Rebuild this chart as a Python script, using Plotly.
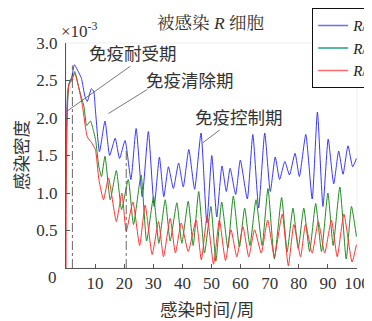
import plotly.graph_objects as go

# infection density (x1e-3) vs infection time (weeks)
blue_x = [0, 0.5, 1, 2, 2.9, 4.2, 5.3, 6.5, 7.3, 8.7, 9.5, 10.1, 11.5, 13.4, 15.0, 16.9, 18.4, 20.3, 22.3, 24.1,
          26.2, 28.3, 30.3, 32.1, 33.6, 35.2, 36.9, 38.7, 40.3, 42.2, 44.2, 46.4, 48.4, 50.1, 51.8, 53.6, 55.1, 56.4,
          58.3, 59.9, 62.3, 64.2, 66.2, 68.3, 70.2, 71.9, 73.4, 75.2, 76.8, 78.7, 80.2, 82.4, 84.6, 86.4, 88.3, 90.1,
          92.0, 93.7, 95.2, 96.9, 98.5, 99.8]
blue_y = [1.55, 2.3, 2.45, 2.55, 2.71, 2.62, 2.53, 2.29, 2.22, 2.39, 2.36, 2.11, 1.55, 1.96, 1.50, 1.73, 1.46, 1.70,
          1.18, 1.86, 0.95, 1.82, 0.82, 1.48, 0.95, 1.35, 1.06, 1.40, 1.08, 1.58, 1.05, 1.80, 0.60, 1.50, 0.68, 1.36,
          1.02, 1.33, 0.98, 1.44, 0.92, 1.78, 0.80, 1.80, 1.02, 1.48, 1.18, 1.42, 1.24, 1.53, 1.22, 1.78, 0.92, 2.08,
          0.82, 1.72, 1.12, 1.56, 1.25, 1.63, 1.35, 1.46]

green_x = [0, 0.4, 1, 2, 3.0, 4.3, 5.4, 6.2, 7.1, 8.4, 9.3, 10.2, 11.3, 12.2, 13.4, 15.2, 17.3, 19.1, 21.4, 23.2,
           25.8, 27.7, 30.1, 31.9, 34.1, 35.8, 38.1, 39.8, 42.0, 43.7, 45.6, 47.6, 49.8, 51.5, 53.5, 55.6, 57.5, 59.6,
           61.4, 63.2, 65.3, 67.4, 69.4, 71.6, 74.1, 76.0, 78.0, 79.8, 81.7, 83.7, 85.8, 87.8, 90.0, 91.8, 94.1, 96.3,
           98.1, 99.8]
green_y = [1.02, 2.0, 2.45, 2.52, 2.62, 2.42, 2.26, 2.15, 1.90, 1.96, 1.85, 1.70, 1.35, 1.22, 1.49, 0.91, 1.30, 0.78,
           1.18, 0.58, 1.24, 0.36, 0.95, 0.33, 0.91, 0.36, 0.87, 0.33, 0.89, 0.30, 1.02, 0.20, 0.82, 0.09, 0.88, 0.27,
           0.96, 0.28, 0.80, 0.30, 0.91, 0.30, 1.06, 0.12, 0.94, 0.22, 0.80, 0.26, 0.80, 0.22, 0.86, 0.22, 1.00, 0.30,
           1.08, 0.12, 0.82, 0.42]

red_x = [0, 0.3, 1.0, 2.0, 3.0, 4.3, 5.7, 7.3, 8.8, 10.1, 11.3, 12.9, 14.6, 17.3, 19.2, 20.7, 23.0, 25.3, 27.2, 29.6,
         31.8, 33.5, 35.8, 37.6, 39.6, 42.0, 44.7, 46.5, 48.5, 50.7, 52.7, 54.8, 56.7, 58.7, 60.8, 62.8, 64.8, 67.1,
         69.3, 71.6, 74.3, 76.4, 78.3, 80.6, 82.3, 84.6, 86.7, 88.9, 91.2, 93.2, 95.5, 98.3, 99.8]
red_y = [0.0, 2.0, 2.45, 2.5, 2.6, 2.42, 2.15, 1.75, 1.67, 1.58, 1.18, 0.91, 1.20, 0.62, 1.00, 0.49, 0.88, 0.30, 0.84,
         0.18, 0.62, 0.15, 0.66, 0.20, 0.60, 0.22, 0.64, 0.11, 0.69, 0.05, 0.64, 0.10, 0.51, 0.15, 0.55, 0.15, 0.51,
         0.20, 0.64, 0.15, 0.72, 0.03, 0.58, 0.15, 0.58, 0.20, 0.62, 0.20, 0.64, 0.15, 0.72, 0.08, 0.31]

series_names = ["<i>R</i>/<i>R</i><sub>0</sub>=0.5", "<i>R</i>/<i>R</i><sub>0</sub>=1.0", "<i>R</i>/<i>R</i><sub>0</sub>=1.5"]
line_colors = ["#3838ff", "#228b22", "#ff3333"]
legend_colors = ["#6b6bff", "#1f9e89", "#ff6b6b"]

x_ticks = [10, 20, 30, 40, 50, 60, 70, 80, 90, 100]
y_ticks = [0.5, 1.0, 1.5, 2.0, 2.5, 3.0]
y_ticktext = ["0.5", "1.0", "1.5", "2.0", "2.5", "3.0"]
phase_lines = [2.2, 20.7]
phase_tops = [2.7, 1.6]

SERIF = "Liberation Serif, Noto Serif CJK SC, Noto Sans CJK SC"
CJK = "Noto Sans CJK SC"
TXT = "#333"

fig = go.Figure()
for xs, ys, c in zip([blue_x, green_x, red_x], [blue_y, green_y, red_y], line_colors):
    fig.add_trace(go.Scatter(x=xs, y=ys, mode="lines", showlegend=False,
                             line=dict(color=c, width=1, shape="spline", smoothing=0.5)))
for name, c in zip(series_names, legend_colors):
    fig.add_trace(go.Scatter(x=[None], y=[None], mode="lines", name=name,
                             line=dict(color=c, width=1.5)))

shapes = []
for xv, top in zip(phase_lines, phase_tops):
    shapes.append(dict(type="line", xref="x", yref="y", x0=xv, x1=xv, y0=0, y1=top,
                       line=dict(color="#444", width=0.8, dash="dashdot")))
# pointer lines for the phase labels
pointers = [((22.1, 2.69), (0.3, 2.09)), ((27.9, 2.38), (14.6, 2.06)), ((52.8, 1.84), (47.0, 1.67))]
for (xa, ya), (xb, yb) in pointers:
    shapes.append(dict(type="line", xref="x", yref="y", x0=xa, y0=ya, x1=xb, y1=yb,
                       line=dict(color="#555", width=0.8)))
shapes.append(dict(type="rect", xref="paper", yref="paper", x0=0, x1=1, y0=0, y1=1,
                   line=dict(color="#eeeeee", width=1), layer="below"))

annotations = [
    dict(x=23.1, y=2.88, xref="x", yref="y", text="免疫耐受期", font=dict(family=CJK, size=17.5, color=TXT)),
    dict(x=42.7, y=2.51, xref="x", yref="y", text="免疫清除期", font=dict(family=CJK, size=17.5, color=TXT)),
    dict(x=59.5, y=2.02, xref="x", yref="y", text="免疫控制期", font=dict(family=CJK, size=17.5, color=TXT)),
    dict(x=0.495, y=1.089, xref="paper", yref="paper", text="被感染 <i>R</i> 细胞",
         font=dict(family=SERIF, size=17.5, color=TXT)),
    dict(x=0.045, y=1.058, xref="paper", yref="paper", text="×10<sup>-3</sup>",
         font=dict(family=SERIF, size=17, color=TXT)),
    dict(x=-0.045, y=-0.04, xref="paper", yref="paper", text="0",
         font=dict(family=SERIF, size=17, color=TXT)),
    dict(x=0.485, y=-0.178, xref="paper", yref="paper", text="感染时间/周",
         font=dict(family=CJK, size=17.5, color=TXT)),
    dict(x=-0.158, y=0.502, xref="paper", yref="paper", text="感染密度", textangle=-90,
         font=dict(family=CJK, size=17.5, color=TXT)),
]
for a in annotations:
    a.update(showarrow=False, xanchor="center", yanchor="middle")

# page body has an 8px margin, so the figure is 8px smaller and its margins 8px less
fig.update_layout(
    width=364, height=313,
    margin=dict(l=58, r=15, t=35, b=53, autoexpand=False),
    paper_bgcolor="white", plot_bgcolor="white",
    shapes=shapes, annotations=annotations,
    legend=dict(x=(312 - 66) / 291, y=(268 - 8) / 225, xanchor="left", yanchor="top",
                bgcolor="white", bordercolor="#111", borderwidth=1.2,
                font=dict(family=SERIF, size=15, color="#222"), tracegroupgap=0),
    xaxis=dict(range=[0, 100], tickvals=x_ticks, ticks="inside", ticklen=4, tickcolor="#555",
               showline=True, linecolor="#555", linewidth=1, showgrid=False, zeroline=False,
               ticklabeloverflow="allow",
               tickfont=dict(family=SERIF, size=17, color=TXT)),
    yaxis=dict(range=[0, 3.0], tickvals=y_ticks, ticktext=y_ticktext, ticks="inside", ticklen=4,
               tickcolor="#555", showline=True, linecolor="#555", linewidth=1, showgrid=False,
               zeroline=False, ticklabelstandoff=4,
               tickfont=dict(family=SERIF, size=17, color=TXT)),
)

fig.write_html("out.html")
